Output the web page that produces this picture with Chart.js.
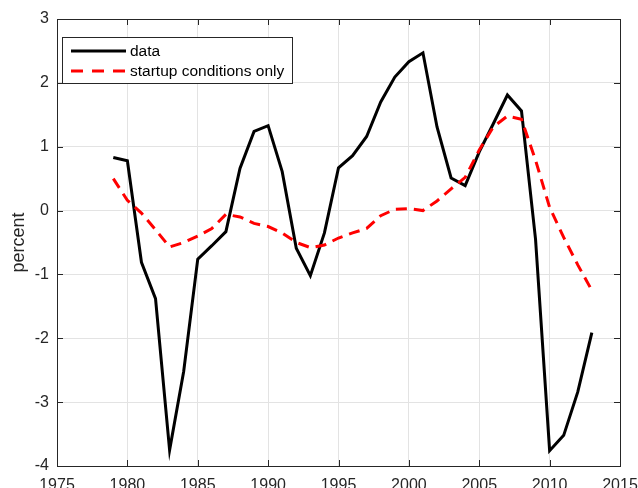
<!DOCTYPE html>
<html>
<head>
<meta charset="utf-8">
<script src="https://cdn.jsdelivr.net/npm/chart.js@4/dist/chart.umd.min.js"></script>
<style>
  html, body { margin: 0; padding: 0; background: #fff; }
  #wrap { width: 638px; height: 488px; }
</style>
</head>
<body>
<div id="wrap"><canvas id="chart-canvas"></canvas></div>
<script>
const years = [1979, 1980, 1981, 1982, 1983, 1984, 1985, 1986, 1987, 1988, 1989, 1990,
  1991, 1992, 1993, 1994, 1995, 1996, 1997, 1998, 1999, 2000, 2001, 2002, 2003, 2004,
  2005, 2006, 2007, 2008, 2009, 2010, 2011, 2012, 2013];

const dataSeries = [0.83, 0.78, -0.81, -1.38, -3.75, -2.52, -0.76, -0.55, -0.33, 0.66, 1.24, 1.33,
  0.61, -0.59, -1.02, -0.35, 0.67, 0.86, 1.16, 1.70, 2.09, 2.33, 2.47, 1.31, 0.51, 0.39,
  0.92, 1.36, 1.81, 1.56, -0.45, -3.76, -3.52, -2.84, -1.91];

const startupSeries = [0.50, 0.16, -0.04, -0.30, -0.57, -0.50, -0.40, -0.28, -0.06, -0.10, -0.20, -0.25,
  -0.35, -0.50, -0.58, -0.54, -0.43, -0.35, -0.28, -0.08, 0.02, 0.03, 0.00, 0.15, 0.34, 0.52,
  0.95, 1.31, 1.48, 1.43, 0.79, 0.05, -0.42, -0.85, -1.25];

const xTicks = [1975, 1980, 1985, 1990, 1995, 2000, 2005, 2010, 2015];
const yTicks = [-4, -3, -2, -1, 0, 1, 2, 3];

const axisColor = "#262626";
const font = "Liberation Sans, Arial, sans-serif";

// box round the plot and inward ticks on all four sides, like matlab
const frameAndTicks = {
  id: "frameAndTicks",
  afterDatasetsDraw(chart) {
    const {ctx, chartArea: a, scales} = chart;
    ctx.save();
    ctx.strokeStyle = axisColor;
    ctx.lineWidth = 1;
    ctx.strokeRect(a.left + 0.5, a.top + 0.5, a.right - a.left, a.bottom - a.top);
    const len = 6;
    ctx.beginPath();
    xTicks.forEach(v => {
      const x = Math.round(scales.x.getPixelForValue(v)) + 0.5;
      ctx.moveTo(x, a.bottom); ctx.lineTo(x, a.bottom - len);
      ctx.moveTo(x, a.top); ctx.lineTo(x, a.top + len);
    });
    yTicks.forEach(v => {
      const y = Math.round(scales.y.getPixelForValue(v)) + 0.5;
      ctx.moveTo(a.left, y); ctx.lineTo(a.left + len, y);
      ctx.moveTo(a.right, y); ctx.lineTo(a.right - len, y);
    });
    ctx.stroke();

    // legend box
    const lx = 62, ly = 37, lw = 230, lh = 46;
    ctx.fillStyle = "#fff";
    ctx.fillRect(lx, ly, lw, lh);
    ctx.strokeRect(lx + 0.5, ly + 0.5, lw, lh);
    ctx.font = "15.5px " + font;
    ctx.textBaseline = "middle";
    chart.data.datasets.forEach((ds, i) => {
      const y = ly + 14 + i * 20;
      ctx.beginPath();
      ctx.strokeStyle = ds.borderColor;
      ctx.lineWidth = ds.borderWidth;
      ctx.setLineDash(ds.borderDash ? [12, 9] : []);
      ctx.moveTo(lx + 9, y); ctx.lineTo(lx + 64, y);
      ctx.stroke();
      ctx.setLineDash([]);
      ctx.fillStyle = "#000";
      ctx.fillText(ds.label, lx + 68, y + 1);
    });
    ctx.restore();
  }
};

const chartCanvas = document.querySelector("#chart-canvas");

new Chart(chartCanvas, {
  type: "line",
  data: {
    datasets: [
      {
        label: "data",
        data: years.map((yr, i) => ({x: yr, y: dataSeries[i]})),
        borderColor: "#000000",
        borderWidth: 3,
        pointRadius: 0,
        tension: 0,
        order: 2
      },
      {
        label: "startup conditions only",
        data: years.map((yr, i) => ({x: yr, y: startupSeries[i]})),
        borderColor: "#ff0000",
        borderWidth: 3,
        borderDash: [11, 7],
        pointRadius: 0,
        tension: 0,
        order: 1
      }
    ]
  },
  options: {
    responsive: true,
    maintainAspectRatio: false,
    animation: false,
    layout: {padding: {top: 19, right: 18, left: 0, bottom: 0}},
    plugins: {
      legend: {display: false},
      tooltip: {enabled: false}
    },
    scales: {
      x: {
        type: "linear",
        min: 1975,
        max: 2015,
        afterBuildTicks: s => { s.ticks = xTicks.map(v => ({value: v})); },
        afterFit: s => { s.height = 22; s.paddingLeft = 0; s.paddingRight = 0; },
        grid: {color: "#e3e3e3", drawTicks: false},
        border: {display: false},
        ticks: {
          color: axisColor,
          font: {family: font, size: 16},
          padding: 10,
          maxRotation: 0,
          callback: v => String(v)
        }
      },
      y: {
        type: "linear",
        min: -4,
        max: 3,
        afterBuildTicks: s => { s.ticks = yTicks.map(v => ({value: v})); },
        afterFit: s => { s.width = 57; s.paddingTop = 0; s.paddingBottom = 0; },
        grid: {color: "#e3e3e3", drawTicks: false},
        border: {display: false},
        title: {
          display: true,
          text: "percent",
          color: axisColor,
          font: {family: font, size: 18},
          padding: {top: 8, bottom: 4}
        },
        ticks: {
          color: axisColor,
          font: {family: font, size: 16},
          padding: 8,
          callback: v => String(v)
        }
      }
    }
  },
  plugins: [frameAndTicks]
});
</script>
</body>
</html>
